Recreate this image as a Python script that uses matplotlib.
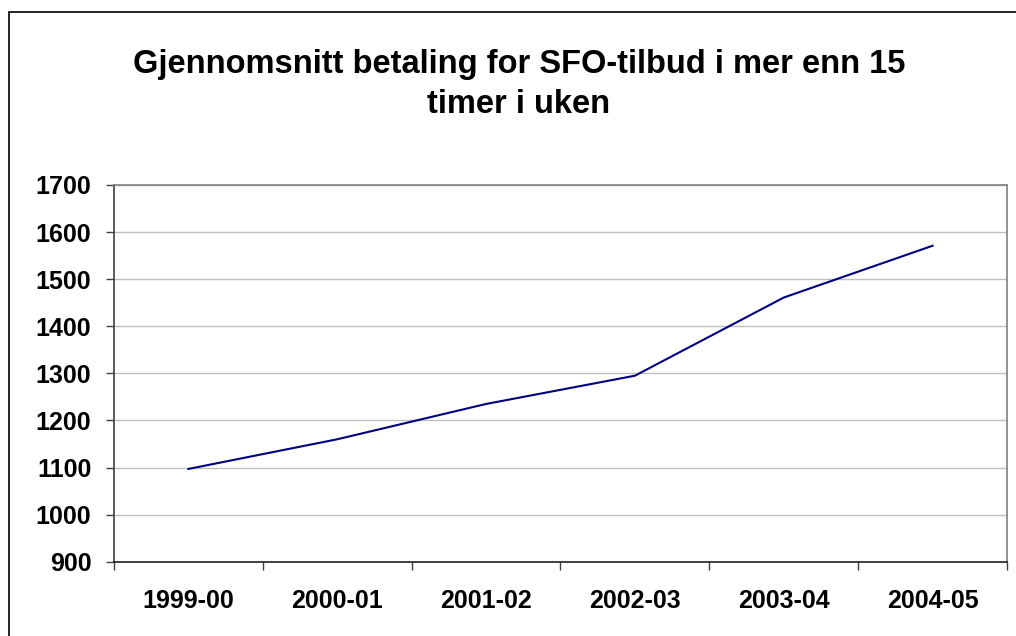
import matplotlib
matplotlib.use("Agg")
import matplotlib.pyplot as plt
import numpy as np
from matplotlib.patches import Rectangle

categories = ["1999-00", "2000-01", "2001-02", "2002-03", "2003-04", "2004-05"]
values = [1097, 1160, 1235, 1295, 1461, 1571]
yticks = [900, 1000, 1100, 1200, 1300, 1400, 1500, 1600, 1700]
title_lines = ["Gjennomsnitt betaling for SFO-tilbud i mer enn 15", "timer i uken"]

plt.rcParams['font.family'] = ['Liberation Sans', 'DejaVu Sans']

fig = plt.figure(figsize=(10.16, 6.36), dpi=100)
fig.patch.set_facecolor('white')
# outer chart border
fig.patches.append(Rectangle((9/1016, -0.01), 1.05, (636-12)/636 + 0.01,
                             transform=fig.transFigure, fill=False,
                             edgecolor='black', linewidth=1.2))

ax = fig.add_axes([114/1016, 74.3/636, 893/1016, 376.7/636])
x = np.arange(len(categories))
ax.plot(x, values, color='#000080', linewidth=1.5)

ax.set_xlim(-0.5, len(categories) - 0.5)
ax.set_ylim(yticks[0], yticks[-1])
ax.set_yticks(yticks)
ax.set_yticklabels([str(v) for v in yticks], fontsize=18, fontweight='bold')
ax.yaxis.grid(True, color='#c0c0c0', linewidth=1)
ax.set_axisbelow(True)

ax.set_xticks(np.arange(-0.5, len(categories), 1))
ax.set_xticklabels([])
ax.set_xticks(x, minor=True)
ax.set_xticklabels(categories, minor=True, fontsize=18, fontweight='bold')
ax.tick_params(axis='x', which='minor', length=0, pad=20)
ax.tick_params(axis='x', which='major', length=5.8, width=1, color='#404040', direction='out')
ax.tick_params(axis='y', length=5.8, width=1, color='#404040', direction='out', pad=10.5)

for s in ['top', 'right']:
    ax.spines[s].set_color('#808080')
    ax.spines[s].set_linewidth(1.2)
ax.spines['left'].set_color('#404040')
ax.spines['left'].set_linewidth(1.2)
ax.spines['bottom'].set_color('#202020')
ax.spines['bottom'].set_linewidth(1.2)

for line, base in zip(title_lines, [73, 113]):
    fig.text(519/1016, 1 - base/636, line, ha='center', va='baseline',
             fontsize=23.5, fontweight='bold')

fig.savefig('out.png', dpi=100)
